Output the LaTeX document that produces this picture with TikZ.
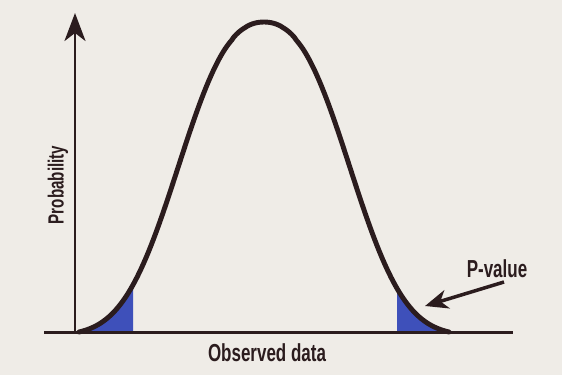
\documentclass[tikz,border=0pt]{standalone}
\usepackage{fontspec}
\newfontfamily\lblfont{Liberation Sans}[FakeStretch=0.69]
\usetikzlibrary{arrows.meta}
\definecolor{paper}{RGB}{239,236,231}
\definecolor{ink}{RGB}{43,28,30}
\definecolor{tailblue}{RGB}{62,80,186}
\tikzset{
    lbl/.style={text=ink, font=\lblfont\bfseries\fontsize{14}{16}\selectfont, inner sep=0pt},
    axisline/.style={ink, line width=1.7pt},
    declare function={bell(\t)=43+310*(exp(-((\t*\t+0.03628)^1.3-0.01342))-0.0121)/0.9879;},
}
\begin{document}
\begin{tikzpicture}[x=0.2mm, y=0.2mm]
        % Background
        \fill[paper] (0,0) rectangle (562,375);
        \useasboundingbox (0,0) rectangle (562,375);

        % Shade the two tails
        \fill[tailblue] (79,43) -- plot[domain=-185:-131, samples=40] ({264+\x}, {bell(\x/105)}) -- (133,43) -- cycle;
        \fill[tailblue] (397,43) -- plot[domain=133:185, samples=40] ({264+\x}, {bell(\x/105)}) -- cycle;

        % Axes
        \coordinate (xl) at (44,43);
        \coordinate (xr) at (513,43);
        \coordinate (origin) at (75,43);
        \coordinate (ytop) at (75,362);
        \draw[axisline] (xl) -- (xr);
        \draw[axisline, -{Stealth[length=5.6mm, width=4.2mm, inset=1.6mm]}] (origin) -- (ytop);

        % Draw the curve
        \draw[ink, line width=2.8pt, line cap=round] plot[domain=-185:185, samples=161] ({264+\x}, {bell(\x/105)});

        % Labels
        \node[lbl] (xlabel) at (267,22) {Observed data};
        \node[lbl, font=\lblfont\bfseries\fontsize{12.5}{14}\selectfont, rotate=90] (ylabel) at (58,190) {Probability};
        \node[lbl] (pval) at (497,106) {P-value};

        % Arrow to the right tail
        \coordinate (ptail) at (504,93);
        \coordinate (ptip) at (425,69);
        \draw[ink, line width=2pt, -{Stealth[length=4.6mm, width=3.8mm, inset=1.4mm]}] (ptail) -- (ptip);

    \end{tikzpicture}
\end{document}
